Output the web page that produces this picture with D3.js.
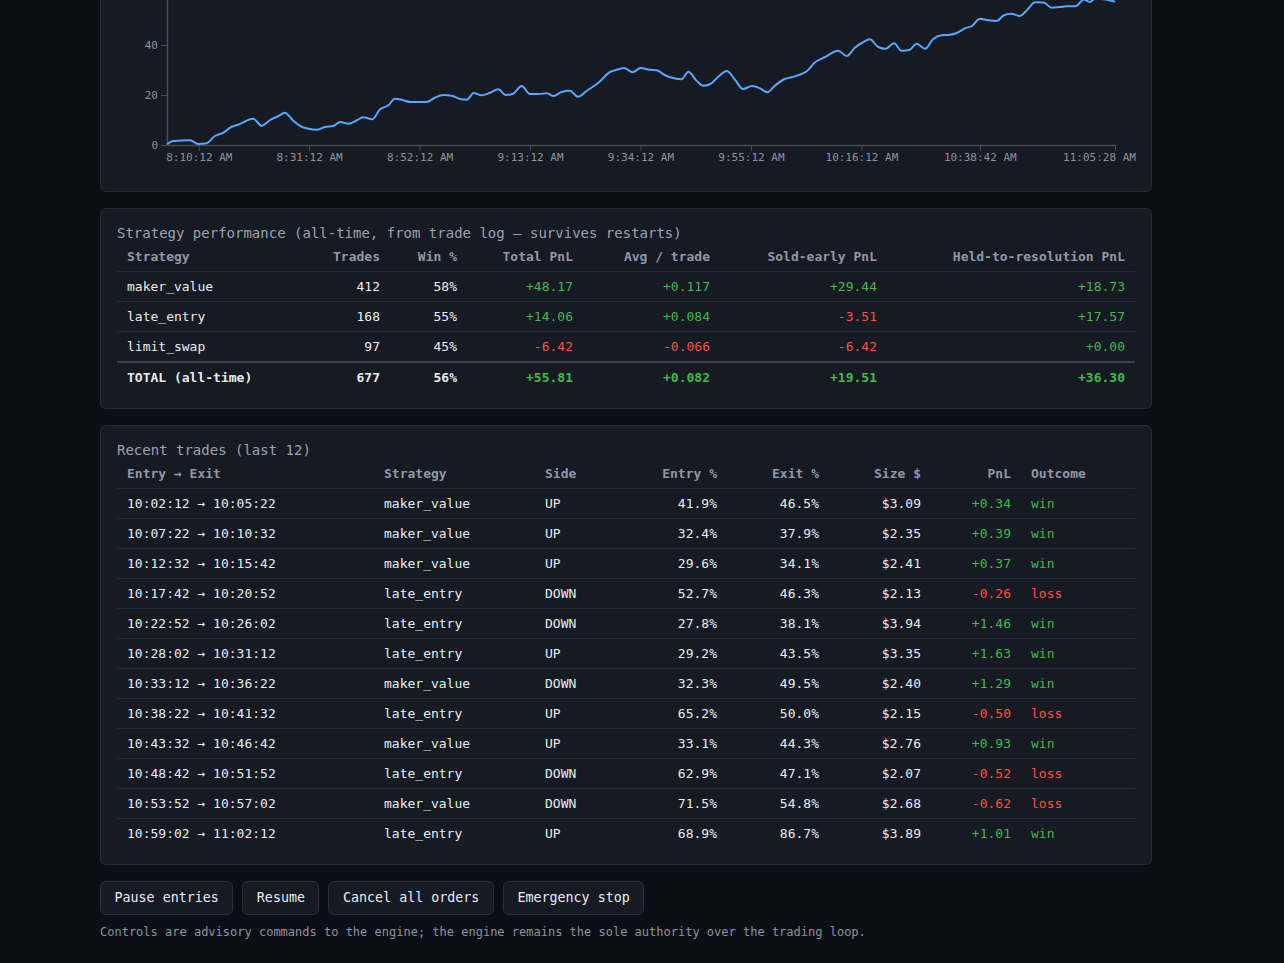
<!DOCTYPE html>
<html>
<head>
<meta charset="utf-8">
<script src="https://cdn.jsdelivr.net/npm/d3@7/dist/d3.min.js"></script>
<style>
  html, body { margin:0; padding:0; background:#0b0e14; overflow:hidden; width:1284px; height:963px; }
  body { font-family:"DejaVu Sans Mono", monospace; color:#e6edf3; position:relative; }
  .panel { position:absolute; left:100px; width:1052px; box-sizing:border-box; background:#161a22; border:1px solid #272c36; border-radius:6px; }
  .ptitle { position:absolute; left:16px; font-size:14px; line-height:18px; color:#9aa3b0; white-space:pre; }
  table { position:absolute; left:16px; width:1018px; table-layout:fixed; border-collapse:separate; border-spacing:0; font-size:13px; }
  th, td { padding:0 10px; height:29px; line-height:29px; white-space:nowrap; border-bottom:1px solid #262b35; overflow:visible; }
  th { color:#8f99a8; font-weight:bold; }
  td { color:#e6edf3; }
  .r { text-align:right; }
  .l { text-align:left; }
  .pos { color:#3fb950; }
  .neg { color:#f85149; }
  tr.last td { border-bottom:none; }
  tr.total td { font-weight:bold; border-top:2px solid #3b414d; border-bottom:none; height:30px; line-height:30px; }
  tr.pretotal td { border-bottom:none; }
  #chart { position:absolute; left:0; top:0; }
  .btns { position:absolute; left:100px; top:881px; display:flex; gap:9px; }
  .btn { height:34px; box-sizing:border-box; padding:0 13.5px; background:#161a22; border:1px solid #2b303a; border-radius:6px; color:#e6edf3; font-family:"DejaVu Sans Mono", monospace; font-size:13.333px; line-height:32px; }
  .foot { position:absolute; left:100px; top:924px; font-size:12px; line-height:16px; color:#8b949e; white-space:pre; }
</style>
</head>
<body>
<div class="panel" id="p1" style="top:-200px;height:392px;"></div>
<div class="panel" id="p2" style="top:208px;height:201px;">
  <div class="ptitle" style="top:15px;">Strategy performance (all-time, from trade log — survives restarts)</div>
  <table id="t1" style="top:33px;"></table>
</div>
<div class="panel" id="p3" style="top:425px;height:440px;">
  <div class="ptitle" style="top:15px;">Recent trades (last 12)</div>
  <table id="t2" style="top:33px;"></table>
</div>
<svg id="chart" width="1284" height="200"></svg>
<div class="btns" id="btns"></div>
<div class="foot">Controls are advisory commands to the engine; the engine remains the sole authority over the trading loop.</div>

<script>
// ---------- Chart data (minutes since first sample, cumulative PnL) ----------
const pnlMinutes = [0,1.2,4.4,5.9,7.5,9.1,10.7,12.3,13.5,16.4,18.0,19.6,21.2,22.4,24.0,25.6,26.9,28.4,30.0,31.6,32.9,34.5,36.1,37.3,39.0,40.5,42.1,43.3,44.6,46.2,49.4,50.9,52.5,54.1,55.7,57.0,58.3,59.8,61.4,63.0,64.4,65.8,67.4,69.0,70.6,72.2,73.5,75.0,76.6,78.1,79.8,82.0,84.2,85.5,86.9,88.5,90.0,91.8,93.1,94.6,96.2,97.8,99.1,100.7,101.9,103.3,104.8,106.4,107.9,109.5,111.2,112.7,114.1,115.5,117.3,118.7,120.6,121.6,123.1,125.0,127.6,129.2,130.7,132.3,133.6,135.2,136.6,138.2,139.6,141.1,142.5,144.1,145.6,147.2,148.8,150.1,151.7,153.0,154.5,156.1,157.7,159.1,160.5,162.1,163.5,165.0,166.6,168.2,169.7,171.0,172.7,174.3,175.4,176.4,178.0,180.2];
const pnlValues  = [0.3,1.6,1.9,0.4,0.7,3.6,4.9,7.3,8.1,10.5,7.7,10.0,11.6,12.9,9.7,7.3,6.5,6.1,7.2,7.6,9.2,8.5,9.9,11.1,10.3,14.3,15.9,18.5,18.1,17.2,17.2,18.9,20.0,19.7,18.4,18.1,20.8,19.9,20.9,22.3,20.0,20.5,23.6,20.4,20.4,20.7,19.6,21.2,21.7,19.3,21.7,24.9,29.2,30.1,30.8,29.1,30.8,30.1,29.9,28.0,26.8,26.3,29.3,25.6,23.7,24.4,27.3,29.6,26.3,22.4,23.6,22.7,21.1,23.6,26.3,27.1,28.4,29.5,32.9,35.1,37.7,35.6,38.8,41.1,42.3,39.2,38.5,40.7,37.7,38.0,40.5,38.5,42.3,43.9,44.1,44.8,46.7,47.6,50.5,49.9,49.6,51.9,52.5,51.6,54.0,57.1,57.0,54.9,55.2,55.5,55.5,58.2,57.2,58.5,58.3,57.3];
const xTickMinutes = [6.04,27.0,48.0,69.0,90.0,111.0,132.0,154.5,180.2];
const xTickLabels = ["8:10:12 AM","8:31:12 AM","8:52:12 AM","9:13:12 AM","9:34:12 AM","9:55:12 AM","10:16:12 AM","10:38:42 AM","11:05:28 AM"];
const yTicks = [0,20,40];
const yMax = 60;

// ---------- Strategy table data ----------
const stratHeaders = ["Strategy","Trades","Win %","Total PnL","Avg / trade","Sold-early PnL","Held-to-resolution PnL"];
const stratNames = ["maker_value","late_entry","limit_swap"];
const stratTrades = [412,168,97];
const stratWin = [58,55,45];
const stratTotal = [48.17,14.06,-6.42];
const stratAvg = [0.117,0.084,-0.066];
const stratSold = [29.44,-3.51,-6.42];
const stratHeld = [18.73,17.57,0.00];
const totalRow = {name:"TOTAL (all-time)", trades:677, win:56, total:55.81, avg:0.082, sold:19.51, held:36.30};

// ---------- Recent trades data ----------
const tradeHeaders = ["Entry → Exit","Strategy","Side","Entry %","Exit %","Size $","PnL","Outcome"];
const tradeEntry = ["10:02:12","10:07:22","10:12:32","10:17:42","10:22:52","10:28:02","10:33:12","10:38:22","10:43:32","10:48:42","10:53:52","10:59:02"];
const tradeExit  = ["10:05:22","10:10:32","10:15:42","10:20:52","10:26:02","10:31:12","10:36:22","10:41:32","10:46:42","10:51:52","10:57:02","11:02:12"];
const tradeStrat = ["maker_value","maker_value","maker_value","late_entry","late_entry","late_entry","maker_value","late_entry","maker_value","late_entry","maker_value","late_entry"];
const tradeSide  = ["UP","UP","UP","DOWN","DOWN","UP","DOWN","UP","UP","DOWN","DOWN","UP"];
const tradeEntryPct = [41.9,32.4,29.6,52.7,27.8,29.2,32.3,65.2,33.1,62.9,71.5,68.9];
const tradeExitPct  = [46.5,37.9,34.1,46.3,38.1,43.5,49.5,50.0,44.3,47.1,54.8,86.7];
const tradeSize = [3.09,2.35,2.41,2.13,3.94,3.35,2.40,2.15,2.76,2.07,2.68,3.89];
const tradePnl  = [0.34,0.39,0.37,-0.26,1.46,1.63,1.29,-0.50,0.93,-0.52,-0.62,1.01];

const buttonLabels = ["Pause entries","Resume","Cancel all orders","Emergency stop"];

// ---------- Chart ----------
const svg = d3.select("#chart");
const x = d3.scaleLinear().domain([0, 180.2]).range([167, 1115]);
const y = d3.scaleLinear().domain([0, yMax]).range([145, -5]);
const axisColor = "#474d57", labelColor = "#8b949e";

const gx = svg.append("g").attr("transform","translate(0,145)")
  .call(d3.axisBottom(x).tickValues(xTickMinutes).tickFormat((d,i)=>xTickLabels[i]).tickSizeOuter(0).tickPadding(2));
const gy = svg.append("g").attr("transform","translate(167,0)")
  .call(d3.axisLeft(y).tickValues(yTicks).tickSizeOuter(0));
[gx, gy].forEach(g => {
  g.selectAll("path.domain").attr("stroke", axisColor).attr("stroke-width", 1.5);
  g.selectAll(".tick line").attr("stroke", axisColor);
  g.selectAll(".tick text").attr("fill", labelColor).attr("font-family","DejaVu Sans Mono, monospace").attr("font-size", 11);
});
gx.selectAll(".tick text").filter((d,i)=> i === xTickLabels.length-1).attr("dx", -16);

const pts = pnlMinutes.map((m,i)=>({m, v:pnlValues[i]}));
svg.append("path").datum(pts)
  .attr("fill","none").attr("stroke","#58a6ff").attr("stroke-width",2)
  .attr("stroke-linejoin","round")
  .attr("d", d3.line().x(d=>x(d.m)).y(d=>y(d.v)).curve(d3.curveMonotoneX));

// ---------- helpers ----------
const sgn = (v, dec) => (v >= 0 ? "+" : "-") + Math.abs(v).toFixed(dec);
const cls = v => v >= 0 ? "pos" : "neg";

// ---------- Strategy table ----------
const t1 = d3.select("#t1");
const cg1 = t1.append("colgroup");
[183,90,77,116,137,167,248].forEach(w => cg1.append("col").style("width", w + "px"));
const align1 = ["l","r","r","r","r","r","r"];
t1.append("thead").append("tr").selectAll("th").data(stratHeaders).join("th")
  .attr("class",(d,i)=>align1[i]).text(d=>d);
const tb1 = t1.append("tbody");
stratNames.forEach((n,i) => {
  const tr = tb1.append("tr").attr("class", i === stratNames.length-1 ? "pretotal" : null);
  const cells = [
    {t:n, c:"l"},
    {t:String(stratTrades[i]), c:"r"},
    {t:stratWin[i] + "%", c:"r"},
    {t:sgn(stratTotal[i],2), c:"r " + cls(stratTotal[i])},
    {t:sgn(stratAvg[i],3), c:"r " + cls(stratAvg[i])},
    {t:sgn(stratSold[i],2), c:"r " + cls(stratSold[i])},
    {t:sgn(stratHeld[i],2), c:"r " + cls(stratHeld[i])}
  ];
  tr.selectAll("td").data(cells).join("td").attr("class",d=>d.c).text(d=>d.t);
});
{
  const tr = tb1.append("tr").attr("class","total");
  const T = totalRow;
  const cells = [
    {t:T.name, c:"l"}, {t:String(T.trades), c:"r"}, {t:T.win + "%", c:"r"},
    {t:sgn(T.total,2), c:"r " + cls(T.total)}, {t:sgn(T.avg,3), c:"r " + cls(T.avg)},
    {t:sgn(T.sold,2), c:"r " + cls(T.sold)}, {t:sgn(T.held,2), c:"r " + cls(T.held)}
  ];
  tr.selectAll("td").data(cells).join("td").attr("class",d=>d.c).text(d=>d.t);
}

// ---------- Recent trades table ----------
const t2 = d3.select("#t2");
const cg2 = t2.append("colgroup");
[257,161,105,87,102,102,90,114].forEach(w => cg2.append("col").style("width", w + "px"));
const align2 = ["l","l","l","r","r","r","r","l"];
t2.append("thead").append("tr").selectAll("th").data(tradeHeaders).join("th")
  .attr("class",(d,i)=>align2[i]).text(d=>d);
const tb2 = t2.append("tbody");
tradeEntry.forEach((e,i) => {
  const tr = tb2.append("tr").attr("class", i === tradeEntry.length-1 ? "last" : null);
  const p = tradePnl[i];
  const cells = [
    {t:e + " → " + tradeExit[i], c:"l"},
    {t:tradeStrat[i], c:"l"},
    {t:tradeSide[i], c:"l"},
    {t:tradeEntryPct[i].toFixed(1) + "%", c:"r"},
    {t:tradeExitPct[i].toFixed(1) + "%", c:"r"},
    {t:"$" + tradeSize[i].toFixed(2), c:"r"},
    {t:sgn(p,2), c:"r " + cls(p)},
    {t:p >= 0 ? "win" : "loss", c:"l " + cls(p)}
  ];
  tr.selectAll("td").data(cells).join("td").attr("class",d=>d.c).text(d=>d.t);
});

// ---------- Buttons ----------
d3.select("#btns").selectAll("button").data(buttonLabels).join("button")
  .attr("class","btn").text(d=>d);
</script>
</body>
</html>
